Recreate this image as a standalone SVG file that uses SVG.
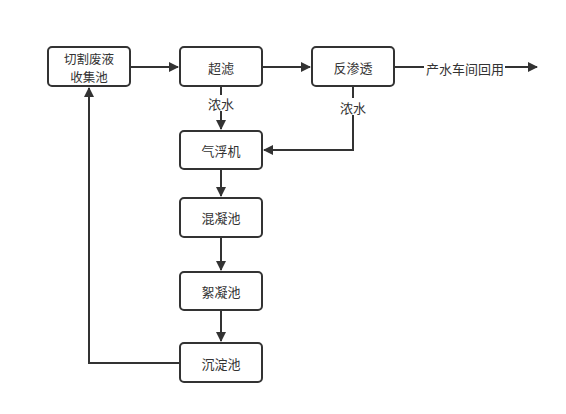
<svg xmlns="http://www.w3.org/2000/svg" width="566" height="414" viewBox="0 0 566 414">
<defs>
<style>
.box{fill:#fff;stroke:#333;stroke-width:2}
.t{font-family:"Noto Sans CJK SC","Liberation Sans",sans-serif;font-size:13px;fill:#333;text-anchor:middle;dominant-baseline:central}
.s{font-size:12.5px}
.c{fill:none;stroke:#333;stroke-width:2}
</style>
<marker id="ah" viewBox="0 0 10 10" refX="9" refY="5" markerWidth="5.5" markerHeight="5" orient="auto" markerUnits="strokeWidth">
<path d="M0,0 L10,5 L0,10 z" fill="#333"/>
</marker>
</defs>
<rect width="566" height="414" fill="#fff"/>
<g id="connectors">
<line class="c" x1="130" y1="67" x2="178" y2="67" marker-end="url(#ah)"/>
<line class="c" x1="262" y1="67" x2="310" y2="67" marker-end="url(#ah)"/>
<line class="c" x1="394" y1="67" x2="424" y2="67"/>
<line class="c" x1="505" y1="67" x2="537" y2="67" marker-end="url(#ah)"/>
<line class="c" x1="221" y1="86" x2="221" y2="95"/>
<line class="c" x1="221" y1="111" x2="221" y2="129" marker-end="url(#ah)"/>
<line class="c" x1="353" y1="86" x2="353" y2="98"/>
<polyline class="c" points="353,115 353,150 264,150" marker-end="url(#ah)"/>
<line class="c" x1="221" y1="169" x2="221" y2="196" marker-end="url(#ah)"/>
<line class="c" x1="221" y1="237" x2="221" y2="270" marker-end="url(#ah)"/>
<line class="c" x1="221" y1="310" x2="221" y2="341" marker-end="url(#ah)"/>
<polyline class="c" points="180,363 89,363 89,88" marker-end="url(#ah)"/>
<text class="t" x="221" y="103">浓水</text>
<text class="t" x="353" y="107">浓水</text>
<text class="t" x="465" y="68">产水车间回用</text>
</g>
<g id="n1"><rect class="box" x="48" y="47" width="82" height="39" rx="4"/><text class="t s" x="89" y="58">切割废液</text><text class="t s" x="89" y="76">收集池</text></g>
<g id="n2"><rect class="box" x="180" y="47" width="82" height="39" rx="4"/><text class="t" x="221" y="67">超滤</text></g>
<g id="n3"><rect class="box" x="312" y="47" width="82" height="39" rx="4"/><text class="t" x="353" y="67">反渗透</text></g>
<g id="n4"><rect class="box" x="180" y="131" width="82" height="38" rx="4"/><text class="t" x="221" y="150">气浮机</text></g>
<g id="n5"><rect class="box" x="180" y="198" width="82" height="39" rx="4"/><text class="t" x="221" y="217">混凝池</text></g>
<g id="n6"><rect class="box" x="180" y="272" width="82" height="38" rx="4"/><text class="t" x="221" y="291">絮凝池</text></g>
<g id="n7"><rect class="box" x="180" y="343" width="82" height="39" rx="4"/><text class="t" x="221" y="363">沉淀池</text></g>
</svg>
